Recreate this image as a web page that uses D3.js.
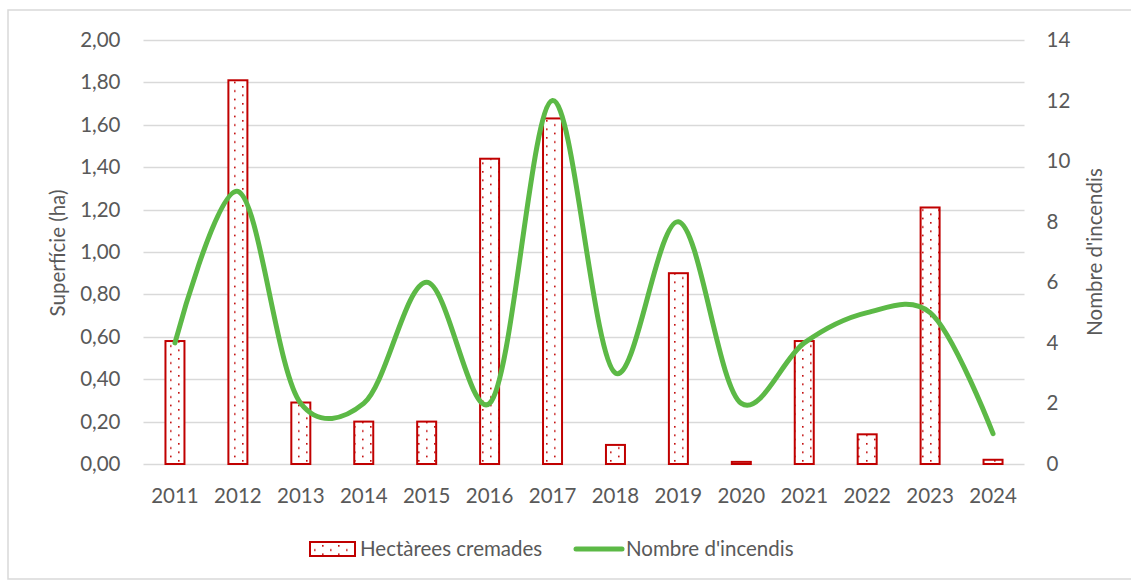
<!DOCTYPE html>
<html><head><meta charset="utf-8">
<script src="https://cdn.jsdelivr.net/npm/d3@7"></script>
<style>
html,body{margin:0;padding:0;background:#fff;}
svg text{font-family:Lato,"Noto Sans",sans-serif;fill:#595959;}
</style></head>
<body><svg id="c" width="1131" height="581"></svg>
<script>
const years = ["2011","2012","2013","2014","2015","2016","2017","2018","2019","2020","2021","2022","2023","2024"];
const hectares = [0.58,1.81,0.29,0.20,0.20,1.44,1.63,0.09,0.90,0.01,0.58,0.14,1.21,0.02];
const fires = [4,9,2,2,6,2,12,3,8,2,4,5,5,1];
const leftTicks = [0,0.2,0.4,0.6,0.8,1.0,1.2,1.4,1.6,1.8,2.0];
const rightTicks = [0,2,4,6,8,10,12,14];
const seriesNames = ["Hectàrees cremades","Nombre d'incendis"];
const axisTitles = ["Superfície (ha)","Nombre d'incendis"];

const svg = d3.select("#c");
const red = "#c00000", green = "#5cb946";
const L = 143.5, R = 1024.5, T = 40, B = 464;
const FS = "20.5px";

svg.append("rect").attr("x",8).attr("y",10).attr("width",1140).attr("height",569)
  .attr("fill","none").attr("stroke","#d9d9d9").attr("stroke-width",1.5);

const defs = svg.append("defs");
const pat = defs.append("pattern").attr("id","dots").attr("patternUnits","userSpaceOnUse")
  .attr("width",16).attr("height",8.5);
pat.append("rect").attr("width",16).attr("height",8.5).attr("fill","#fff");
pat.append("rect").attr("x",2).attr("y",1).attr("width",1.6).attr("height",1.6).attr("fill",red);
pat.append("rect").attr("x",10).attr("y",5.25).attr("width",1.6).attr("height",1.6).attr("fill",red);

const x = d3.scaleBand().domain(years).range([L,R]).paddingInner(0).paddingOuter(0);
const yL = d3.scaleLinear().domain([0,2]).range([B,T]);
const yR = d3.scaleLinear().domain([0,14]).range([B,T]);
const fmt = d => d3.format(".2f")(d).replace(".",",");

// gridlines
svg.append("g").selectAll("line").data(leftTicks).join("line")
  .attr("x1",L).attr("x2",R).attr("y1",d=>Math.round(yL(d))+0.5).attr("y2",d=>Math.round(yL(d))+0.5)
  .attr("stroke","#d9d9d9").attr("stroke-width",1.5);

// left axis
const gl = svg.append("g").attr("transform",`translate(${L},0)`)
  .call(d3.axisLeft(yL).tickValues(leftTicks).tickFormat(fmt).tickSize(0).tickPadding(23));
gl.select(".domain").remove();
gl.selectAll("text").style("font-size",FS).attr("fill","#595959");

// right axis
const gr = svg.append("g").attr("transform",`translate(${R},0)`)
  .call(d3.axisRight(yR).tickValues(rightTicks).tickSize(0).tickPadding(22));
gr.select(".domain").remove();
gr.selectAll("text").style("font-size",FS).attr("fill","#595959");

// bottom axis
const gb = svg.append("g").attr("transform",`translate(0,${B})`)
  .call(d3.axisBottom(x).tickSize(0).tickPadding(24));
gb.select(".domain").remove();
gb.selectAll("text").style("font-size",FS).attr("fill","#595959");

// bars
const bw = 19;
svg.append("g").selectAll("rect").data(years).join("rect")
  .attr("x",(d)=>x(d)+x.bandwidth()/2-bw/2)
  .attr("y",(d,i)=>yL(hectares[i]))
  .attr("width",bw)
  .attr("height",(d,i)=>B-yL(hectares[i]))
  .attr("fill","url(#dots)").attr("stroke",red).attr("stroke-width",2);

// line
const line = d3.line().x((d,i)=>x(years[i])+x.bandwidth()/2).y(d=>yR(d)).curve(d3.curveCatmullRom.alpha(0.2));
svg.append("path").datum(fires).attr("d",line).attr("fill","none")
  .attr("stroke",green).attr("stroke-width",5).attr("stroke-linecap","round").attr("stroke-linejoin","round");

// axis titles
svg.append("text").attr("transform",`translate(65,${(T+B)/2+1}) rotate(-90)`)
  .attr("text-anchor","middle").style("font-size",FS).text(axisTitles[0]);
svg.append("text").attr("transform",`translate(1102,${(T+B)/2}) rotate(-90)`)
  .attr("text-anchor","middle").style("font-size",FS).text(axisTitles[1]);

// legend
const lg = svg.append("g");
lg.append("rect").attr("x",310).attr("y",542).attr("width",45).attr("height",14)
  .attr("fill","url(#dots)").attr("stroke",red).attr("stroke-width",2);
lg.append("text").attr("x",360).attr("y",556).style("font-size",FS).text(seriesNames[0]);
lg.append("line").attr("x1",576).attr("x2",622).attr("y1",549).attr("y2",549)
  .attr("stroke",green).attr("stroke-width",5).attr("stroke-linecap","round");
lg.append("text").attr("x",626).attr("y",556).style("font-size",FS).text(seriesNames[1]);
</script></body></html>
